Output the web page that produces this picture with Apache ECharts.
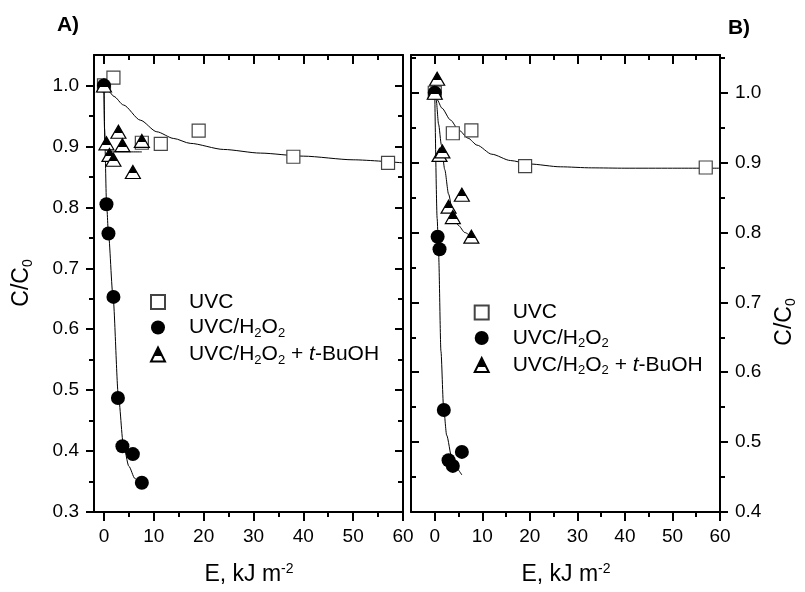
<!DOCTYPE html>
<html>
<head>
<meta charset="utf-8">
<script src="https://cdn.jsdelivr.net/npm/echarts@6/dist/echarts.min.js"></script>
<style>
html,body{margin:0;padding:0;background:#fff;}
#main{width:805px;height:592px;}
</style>
</head>
<body>
<div id="main"></div>
<script>
// panel A) measured points
var uvcA=[[0,1.0],[1.9,1.013],[7.6,0.906],[11.4,0.904],[19,0.926],[38,0.883],[57,0.873]];
var h2o2A=[[0,1.0],[0.5,0.805],[0.9,0.757],[1.9,0.653],[2.8,0.487],[3.7,0.408],[5.8,0.395],[7.6,0.348]];
var tbuA=[[0,1.0],[0.5,0.905],[1.1,0.886],[1.9,0.878],[2.9,0.924],[3.7,0.902],[5.8,0.858],[7.6,0.909]];
// panel A) fitted curves (read off the picture)
var uvcFitA=[[0,1.0],[1,0.99],[2,0.982],[3.9,0.968],[7.3,0.943],[10.6,0.924],[14,0.913],[17.3,0.905],[24,0.895],[31.4,0.889],[40,0.884],[50,0.878],[60,0.873]];
var h2o2FitA=[[0,1.0],[0.2,0.9],[0.5,0.81],[0.9,0.757],[1.8,0.655],[2.9,0.49],[3.9,0.41],[5,0.375],[6.2,0.355],[7.6,0.343]];
var tbuFitA=[[0,1.0],[0.1,0.93],[0.3,0.895],[1,0.891],[7.6,0.891]];

// panel B) measured points
var uvcB=[[0,1.0],[3.8,0.942],[7.7,0.946],[19,0.895],[57,0.893]];
var h2o2B=[[0,1.0],[0.6,0.794],[1.0,0.776],[1.9,0.546],[2.9,0.474],[3.8,0.466],[5.7,0.486]];
var tbuB=[[0,1.0],[0.5,1.02],[1.0,0.911],[1.6,0.916],[2.9,0.837],[3.8,0.822],[5.7,0.854],[7.7,0.794]];
// panel B) fitted curves
var uvcFitB=[[0,1.0],[0.5,0.99],[1.5,0.978],[3.3,0.961],[5,0.947],[7,0.935],[8.9,0.925],[12,0.912],[15.9,0.903],[20,0.898],[26.4,0.894],[33,0.8925],[40,0.892],[50,0.892],[60,0.892]];
var h2o2FitB=[[0,1.0],[0.5,0.82],[0.8,0.77],[1.3,0.63],[1.85,0.55],[2.5,0.51],[3.6,0.477],[4.5,0.463],[5.7,0.453]];
var tbuFitB=[[0,1.0],[0.3,0.99],[0.8,0.955],[1.4,0.925],[2.1,0.89],[2.9,0.855],[3.8,0.828],[5,0.81],[6.3,0.8],[7.7,0.794]];

// ticks
var xMajor=[0,10,20,30,40,50,60];
var xMinor=[5,15,25,35,45,55];
var yMajorA=[0.3,0.4,0.5,0.6,0.7,0.8,0.9,1.0];
var yMinorA=[0.35,0.45,0.55,0.65,0.75,0.85,0.95];
var yMajorB=[0.4,0.5,0.6,0.7,0.8,0.9,1.0];
var yMinorB=[0.45,0.55,0.65,0.75,0.85,0.95,1.05];

var names=['UVC','UVC/H2O2','UVC/H2O2 + t-BuOH'];
var font='Liberation Sans, Arial, Helvetica, sans-serif';

var rich={
    sp:{width:19,lineHeight:24},
    a:{fontSize:21,lineHeight:24,fontFamily:font,color:'#000'},
    i:{fontSize:21,lineHeight:24,fontFamily:font,color:'#000',fontStyle:'italic'},
    s:{fontSize:13,lineHeight:8,verticalAlign:'bottom',fontFamily:font,color:'#000'},
    t:{fontSize:23,lineHeight:26,fontFamily:font,color:'#000'},
    ts:{fontSize:14,lineHeight:8,verticalAlign:'bottom',fontFamily:font,color:'#000'},
    tp:{fontSize:14,lineHeight:8,verticalAlign:'top',fontFamily:font,color:'#000'}
};

function legendFmt(name){
    if(name==='UVC') return '{sp| }{a|UVC}';
    if(name==='UVC/H2O2') return '{sp| }{a|UVC/H}{s|2}{a|O}{s|2}';
    return '{sp| }{a|UVC/H}{s|2}{a|O}{s|2}{a| + }{i|t}{a|-BuOH}';
}

function xAx(grid,pos,min,ticks,len,inside,labels,line){
    return {type:'value',gridIndex:grid,position:pos,min:min,max:60,
        axisLine:{show:line,onZero:false,lineStyle:{color:'#000',width:2}},
        axisTick:{show:true,inside:inside,length:len,customValues:ticks,lineStyle:{color:'#000',width:2}},
        axisLabel:{show:!!labels,customValues:labels||[],margin:15,fontSize:19,color:'#000',fontFamily:font},
        splitLine:{show:false}};
}
function yAx(grid,pos,min,max,ticks,len,inside,labels,line){
    return {type:'value',gridIndex:grid,position:pos,min:min,max:max,
        axisLine:{show:line,onZero:false,lineStyle:{color:'#000',width:2}},
        axisTick:{show:true,inside:inside,length:len,customValues:ticks,lineStyle:{color:'#000',width:2}},
        axisLabel:{show:!!labels,customValues:labels||[],margin:15,fontSize:19,color:'#000',fontFamily:font,
            formatter:function(v){return v.toFixed(1);}},
        splitLine:{show:false}};
}

var halfFill={type:'linear',x:0,y:0,x2:0,y2:1,global:false,colorStops:[
    {offset:0,color:'#000'},{offset:0.6,color:'#000'},{offset:0.6,color:'#fff'},{offset:1,color:'#fff'}]};

function fit(data,xi,yi){
    return {type:'line',name:'fit',xAxisIndex:xi,yAxisIndex:yi,data:data,symbol:'none',showSymbol:false,
        smooth:0.25,smoothMonotone:'x',silent:true,z:1,lineStyle:{color:'#000',width:1}};
}
function pts(kind,data,xi,yi){
    var s={type:'scatter',name:names[kind],xAxisIndex:xi,yAxisIndex:yi,data:data,z:2,silent:true};
    if(kind===0){
        s.symbol='rect';s.symbolSize=[13,13];
        s.itemStyle={color:'#fff',borderColor:'#444',borderWidth:1.2,opacity:1};
    }else if(kind===1){
        s.symbol='circle';s.symbolSize=14;
        s.itemStyle={color:'#000',opacity:1};
    }else{
        s.symbol='triangle';s.symbolSize=[15,13];
        s.itemStyle={color:halfFill,borderColor:'#000',borderWidth:1.2,opacity:1};
    }
    return s;
}

function legendAt(left,top){
    return {show:true,orient:'vertical',left:left,top:top,itemGap:4.5,itemWidth:14,itemHeight:14,
        selectedMode:false,data:names,formatter:legendFmt,
        textStyle:{fontSize:21,fontFamily:font,color:'#000',rich:rich}};
}

function label(x,y,txt,rot){
    return {type:'text',x:x,y:y,rotation:rot||0,silent:true,
        style:{text:txt,rich:rich,textAlign:'center',textVerticalAlign:'middle',align:'center',verticalAlign:'middle',
            fontSize:23,fontFamily:font,fill:'#000'}};
}

var myChart=echarts.init(document.getElementById('main'));
var option={
    animation:false,
    backgroundColor:'#fff',
    grid:[
        {left:94,top:55,width:309,height:457,containLabel:false,outerBoundsMode:'none'},
        {left:411,top:55,width:309,height:457,containLabel:false,outerBoundsMode:'none'}
    ],
    xAxis:[
        xAx(0,'bottom',-2,xMajor,9,false,xMajor,true),
        xAx(0,'bottom',-2,xMinor,5,false,null,false),
        xAx(0,'top',-2,xMajor,9,true,null,true),
        xAx(0,'top',-2,xMinor,5,true,null,false),
        xAx(1,'bottom',-5,xMajor,9,false,xMajor,true),
        xAx(1,'bottom',-5,xMinor,5,false,null,false),
        xAx(1,'top',-5,xMajor,9,true,null,true),
        xAx(1,'top',-5,xMinor,5,true,null,false)
    ],
    yAxis:[
        yAx(0,'left',0.3,1.05,yMajorA,8,false,yMajorA,true),
        yAx(0,'left',0.3,1.05,yMinorA,5,false,null,false),
        yAx(0,'right',0.3,1.05,yMajorA,8,true,null,true),
        yAx(0,'right',0.3,1.05,yMinorA,5,true,null,false),
        yAx(1,'right',0.4,1.054,yMajorB,8,false,yMajorB,true),
        yAx(1,'right',0.4,1.054,yMinorB,5,false,null,false),
        yAx(1,'left',0.4,1.054,yMajorB,8,true,null,true),
        yAx(1,'left',0.4,1.054,yMinorB,5,true,null,false)
    ],
    legend:[legendAt(145,286.5),legendAt(468.7,297)],
    graphic:[
        {type:'text',x:68,y:25,silent:true,style:{text:'A)',font:'bold 21px '+font,fill:'#000',textAlign:'center',textVerticalAlign:'middle',align:'center',verticalAlign:'middle'}},
        {type:'text',x:739,y:28,silent:true,style:{text:'B)',font:'bold 21px '+font,fill:'#000',textAlign:'center',textVerticalAlign:'middle',align:'center',verticalAlign:'middle'}},
        label(249,575,'{t|E, kJ m}{tp|-2}'),
        label(566,575,'{t|E, kJ m}{tp|-2}'),
        label(22,283,'{t|C/C}{ts|0}',Math.PI/2),
        label(785,322,'{t|C/C}{ts|0}',Math.PI/2)
    ],
    series:[
        fit(uvcFitA,0,0),fit(h2o2FitA,0,0),fit(tbuFitA,0,0),
        pts(0,uvcA,0,0),pts(1,h2o2A,0,0),pts(2,tbuA,0,0),
        fit(uvcFitB,4,4),fit(h2o2FitB,4,4),fit(tbuFitB,4,4),
        pts(0,uvcB,4,4),pts(1,h2o2B,4,4),pts(2,tbuB,4,4)
    ]
};
myChart.setOption(option);
</script>
</body>
</html>
